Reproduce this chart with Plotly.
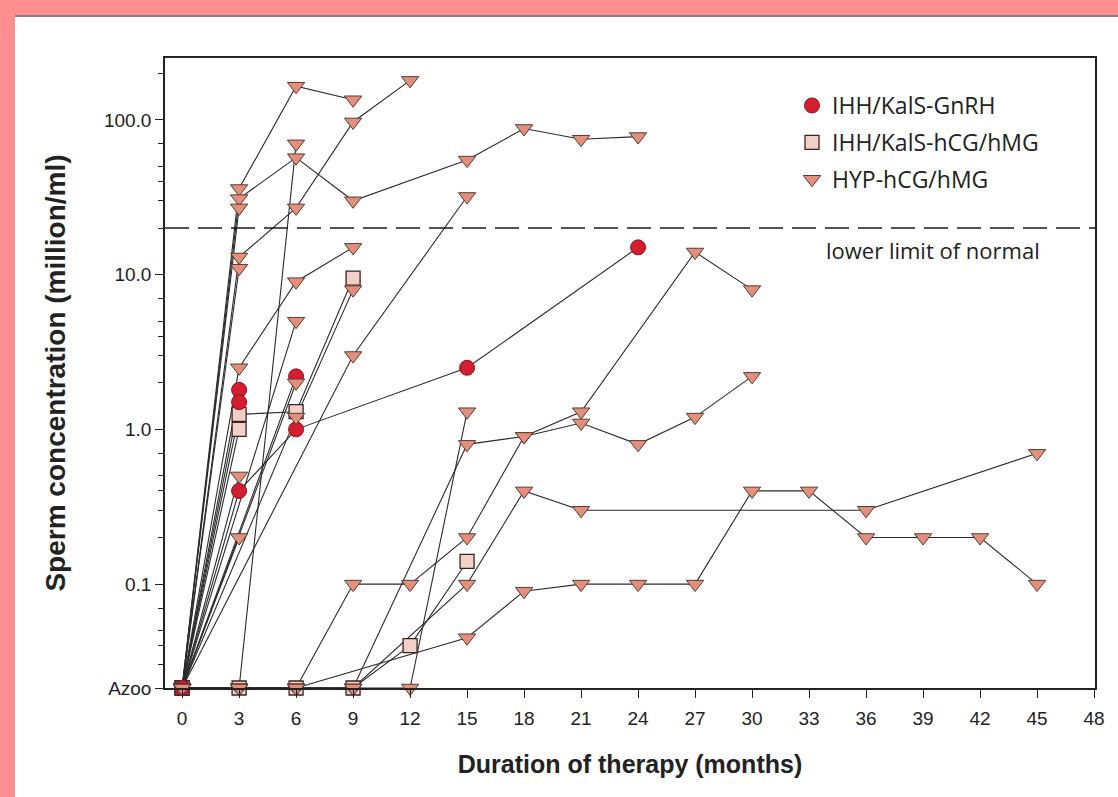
import math
import plotly.graph_objects as go

# Sperm concentration (million/ml) per patient by month of therapy.
# A value of 0 means azoospermia ("Azoo" row of the axis).
gnrh_months = [[0, 3, 6, 15, 24], [0, 3], [0, 3], [0, 6]]
gnrh_conc = [[0, 0.4, 1.0, 2.5, 15], [0, 1.8], [0, 1.5], [0, 2.2]]

ihh_hcg_months = [[0, 3, 6, 9, 12, 15], [0, 3, 6, 9], [0, 3]]
ihh_hcg_conc = [[0, 0, 0, 0, 0.04, 0.14], [0, 1.25, 1.3, 9.5], [0, 1.0]]

hyp_months = [
    [0, 3, 6, 9],
    [0, 3, 6, 9, 15, 18, 21, 24],
    [0, 3, 6, 9, 12],
    [0, 3, 6],
    [0, 3],
    [0, 3],
    [0, 3, 6, 9],
    [0, 6, 9],
    [0, 9, 15],
    [0, 6],
    [0, 6],
    [0, 3],
    [0, 3],
    [0, 3, 6, 9, 12, 15, 18, 21, 27, 30],
    [0, 3, 6, 9, 15, 18, 21, 24, 27, 30],
    [0, 3, 6, 9, 12, 15],
    [0, 3, 6, 9, 15, 18, 21, 36, 45],
    [0, 3, 6, 15, 18, 21, 24, 27, 30, 33, 36, 39, 42, 45],
]
hyp_conc = [
    [0, 36, 165, 135],
    [0, 31, 57, 30, 55, 88, 75, 78],
    [0, 13, 27, 97, 180],
    [0, 0, 70],
    [0, 27],
    [0, 11],
    [0, 2.5, 9, 15],
    [0, 1.2, 8],
    [0, 3, 32],
    [0, 5],
    [0, 2.0],
    [0, 0.5],
    [0, 0.2],
    [0, 0, 0, 0.1, 0.1, 0.2, 0.9, 1.3, 14, 8],
    [0, 0, 0, 0, 0.8, 0.9, 1.1, 0.8, 1.2, 2.2],
    [0, 0, 0, 0, 0, 1.3],
    [0, 0, 0, 0, 0.1, 0.4, 0.3, 0.3, 0.7],
    [0, 0, 0, 0.045, 0.09, 0.1, 0.1, 0.1, 0.4, 0.4, 0.2, 0.2, 0.2, 0.1],
]

group_names = ["IHH/KalS-GnRH", "IHH/KalS-hCG/hMG", "HYP-hCG/hMG"]
normal_limit = 20  # million/ml
x_ticks = list(range(0, 49, 3))
y_tick_labels = ["Azoo", "0.1", "1.0", "10.0", "100.0"]

# where azoospermic samples sit on the log axis
AZOO_LEVEL = 0.0213
Y_TOP_LOG = 2.40


def to_axis(values):
    return [AZOO_LEVEL if v == 0 else v for v in values]


FONT = "Liberation Sans, Arial, sans-serif"
LEGEND_FONT = "Open Sans, Noto Sans, sans-serif"
LINE_COLOR = "#2b2b2b"

fig = go.Figure()

# patient trajectories
for months, conc in zip(gnrh_months + ihh_hcg_months + hyp_months,
                        gnrh_conc + ihh_hcg_conc + hyp_conc):
    fig.add_trace(go.Scatter(
        x=months, y=to_axis(conc), mode="lines",
        line=dict(color=LINE_COLOR, width=1.1),
        showlegend=False, hoverinfo="skip", cliponaxis=False,
    ))

styles = {
    "IHH/KalS-hCG/hMG": dict(symbol="square", size=14, color="#f3d0c6",
                             line=dict(color="#3a2422", width=1.3)),
    "IHH/KalS-GnRH": dict(symbol="circle", size=15, color="#d41d2f",
                          line=dict(color="#8c1421", width=1)),
    "HYP-hCG/hMG": dict(symbol="triangle-down", size=15, color="#e2907b",
                        line=dict(color="#5b3a33", width=1)),
}
series = {
    "IHH/KalS-GnRH": (gnrh_months, gnrh_conc),
    "IHH/KalS-hCG/hMG": (ihh_hcg_months, ihh_hcg_conc),
    "HYP-hCG/hMG": (hyp_months, hyp_conc),
}

# markers: squares, then circles, then triangles on top
for name in ["IHH/KalS-hCG/hMG", "IHH/KalS-GnRH", "HYP-hCG/hMG"]:
    months, conc = series[name]
    xs = [m for row in months for m in row]
    ys = [v for row in conc for v in to_axis(row)]
    fig.add_trace(go.Scatter(
        x=xs, y=ys, mode="markers", name=name,
        marker=styles[name], cliponaxis=False,
        legendrank=group_names.index(name) + 1,
        legendgroup=name,
    ))

# lower limit of normal
fig.add_shape(type="line", xref="paper", x0=0, x1=1, yref="y",
              y0=normal_limit, y1=normal_limit,
              line=dict(color="#1a1a1a", width=1.5, dash="24px,9px"))
fig.add_annotation(x=39.5, y=math.log10(normal_limit), xref="x", yref="y",
                   text="lower limit of normal", showarrow=False,
                   yanchor="top", yshift=-5,
                   font=dict(family=LEGEND_FONT, size=22, color="#222"))

# page border strips
W, H = 1118, 797
ML, MR, MT, MB = 165, 23, 58, 109
PW, PH = W - ML - MR, H - MT - MB


def px_x(px):
    return (px - ML) / PW


def px_y(py):
    return (H - MB - py) / PH


PINK = "#ff8f8f"
fig.add_shape(type="rect", xref="paper", yref="paper",
              x0=px_x(0), x1=px_x(15), y0=px_y(H), y1=px_y(0),
              fillcolor=PINK, line=dict(width=0), layer="below")
fig.add_shape(type="rect", xref="paper", yref="paper",
              x0=px_x(0), x1=px_x(W), y0=px_y(15), y1=px_y(0),
              fillcolor=PINK, line=dict(width=0), layer="below")
fig.add_shape(type="line", xref="paper", yref="paper",
              x0=px_x(15), x1=px_x(W), y0=px_y(16), y1=px_y(16),
              line=dict(color="#8c7c82", width=2))

minor_vals = [m * 10 ** e for e in range(-2, 3) for m in (2, 3, 4, 5, 7)]
minor_vals = [v for v in minor_vals if AZOO_LEVEL < v < 10 ** Y_TOP_LOG]

fig.update_layout(
    width=W, height=H,
    margin=dict(l=ML, r=MR, t=MT, b=MB),
    paper_bgcolor="white", plot_bgcolor="white",
    font=dict(family=FONT, size=19, color="#222"),
    legend=dict(x=px_x(792), y=px_y(84), xanchor="left", yanchor="top",
                font=dict(family=LEGEND_FONT, size=23, color="#222"),
                bgcolor="rgba(0,0,0,0)", tracegroupgap=4,
                itemwidth=30, traceorder="grouped"),
    xaxis=dict(
        range=[-0.9, 48.05], tickmode="array", tickvals=x_ticks,
        ticks="outside", ticklen=8, tickwidth=1.3, tickcolor="#222",
        ticklabelstandoff=4,
        showline=True, linecolor="#222", linewidth=1.5, mirror=True,
        showgrid=False, zeroline=False,
        tickfont=dict(size=19),
        title=dict(text="<b>Duration of therapy (months)</b>",
                   font=dict(size=25), standoff=28),
    ),
    yaxis=dict(
        type="log", range=[math.log10(AZOO_LEVEL), Y_TOP_LOG],
        tickmode="array", tickvals=[AZOO_LEVEL, 0.1, 1, 10, 100],
        ticktext=y_tick_labels,
        ticks="outside", ticklen=8, tickwidth=1.3, tickcolor="#222",
        minor=dict(tickmode="array", tickvals=minor_vals, ticks="outside",
                   ticklen=5, tickwidth=1, tickcolor="#222", showgrid=False),
        showline=True, linecolor="#222", linewidth=1.5, mirror=True,
        showgrid=False, zeroline=False,
        tickfont=dict(size=19),
        title=dict(text="<b>Sperm concentration (million/ml)</b>",
                   font=dict(size=28), standoff=30),
    ),
)

fig.write_html("out.html")
